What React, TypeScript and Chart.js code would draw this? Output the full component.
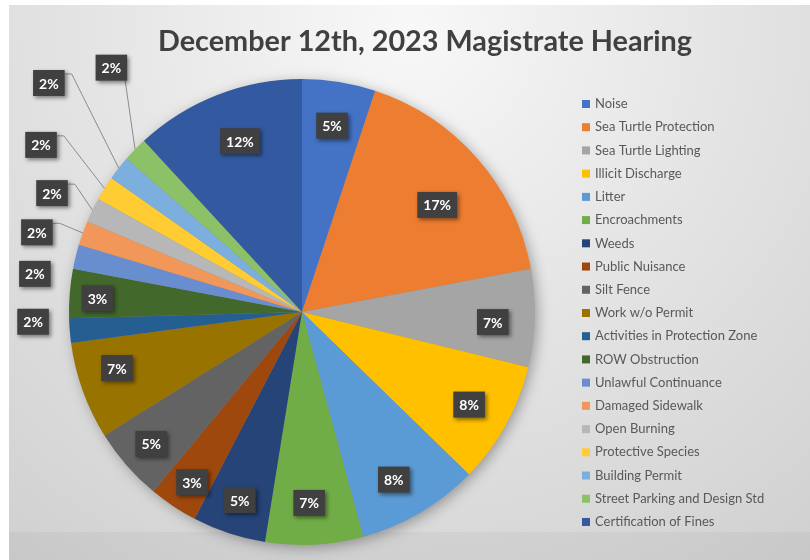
import { useEffect, useRef } from "react";
import { Chart, registerables } from "chart.js";

Chart.register(...registerables);

const chartTitle = "December 12th, 2023 Magistrate Hearing";

const categories = [
  "Noise",
  "Sea Turtle Protection",
  "Sea Turtle Lighting",
  "Illicit Discharge",
  "Litter",
  "Encroachments",
  "Weeds",
  "Public Nuisance",
  "Silt Fence",
  "Work w/o Permit",
  "Activities in Protection Zone",
  "ROW Obstruction",
  "Unlawful Continuance",
  "Damaged Sidewalk",
  "Open Burning",
  "Protective Species",
  "Building Permit",
  "Street Parking and Design Std",
  "Certification of Fines",
];

const caseCounts = [3, 10, 4, 5, 5, 4, 3, 2, 3, 4, 1, 2, 1, 1, 1, 1, 1, 1, 7];

const sliceColors = [
  "#4472C4", "#ED7D31", "#A5A5A5", "#FFC000", "#5B9BD5", "#70AD47",
  "#264478", "#9E480E", "#636363", "#997300", "#255E91", "#43682B",
  "#698ED0", "#F1975A", "#B7B7B7", "#FFCD33", "#7CAFDD", "#8CC168",
  "#335AA1",
];

// label placement: radial factor (of outer radius), angular shift (degrees), leader line
const labelLayout: { k: number; da: number; leader?: boolean }[] = [
  { k: 0.81, da: 0 },
  { k: 0.74, da: 2.8 },
  { k: 0.82, da: 1.5 },
  { k: 0.82, da: 0 },
  { k: 0.82, da: 1.8 },
  { k: 0.82, da: 0.9 },
  { k: 0.85, da: 0 },
  { k: 0.87, da: -0.7 },
  { k: 0.86, da: 0 },
  { k: 0.83, da: 3 },
  { k: 1.155, da: 2.5 },
  { k: 0.88, da: -0.7 },
  { k: 1.158, da: -5.6 },
  { k: 1.188, da: -3.1, leader: true },
  { k: 1.188, da: -0.5, leader: true },
  { k: 1.33, da: 0.6, leader: true },
  { k: 1.465, da: 4, leader: true },
  { k: 1.33, da: 7.8, leader: true },
  { k: 0.78, da: 1.4 },
];

const FONT = "Lato, 'Open Sans', sans-serif";

const bgPlugin = {
  id: "bgPlugin",
  beforeDraw(chart: any) {
    const { ctx, width, height } = chart;
    ctx.save();
    const g = ctx.createRadialGradient(400, 20, 0, 400, 20, 720);
    g.addColorStop(0, "#f8f8f8");
    g.addColorStop(0.45, "#e4e4e4");
    g.addColorStop(1, "#cdcdcd");
    ctx.fillStyle = g;
    ctx.fillRect(0, 0, width, height);
    ctx.fillStyle = "rgba(0,0,0,0.035)";
    ctx.fillRect(0, 527, width, height - 527);
    ctx.restore();
  },
  beforeDatasetsDraw(chart: any) {
    const { ctx } = chart;
    const arc = chart.getDatasetMeta(0).data[0];
    if (!arc) return;
    const { x, y, outerRadius } = arc.getProps(["x", "y", "outerRadius"], true);
    ctx.save();
    ctx.shadowColor = "rgba(0,0,0,0.35)";
    ctx.shadowBlur = 14;
    ctx.shadowOffsetX = 3;
    ctx.shadowOffsetY = 3;
    ctx.beginPath();
    ctx.arc(x, y, outerRadius - 1, 0, Math.PI * 2);
    ctx.fillStyle = "#888";
    ctx.fill();
    ctx.restore();
  },
};

const labelPlugin = {
  id: "labelPlugin",
  afterDatasetsDraw(chart: any) {
    const { ctx } = chart;
    const meta = chart.getDatasetMeta(0);
    const data = chart.data.datasets[0].data as number[];
    const total = data.reduce((a, b) => a + b, 0);
    ctx.save();
    ctx.font = `bold 14px ${FONT}`;
    meta.data.forEach((arc: any, i: number) => {
      const { x, y, startAngle, endAngle, outerRadius } = arc.getProps(
        ["x", "y", "startAngle", "endAngle", "outerRadius"],
        true
      );
      const mid = (startAngle + endAngle) / 2;
      const lay = labelLayout[i];
      const a = mid + (lay.da * Math.PI) / 180;
      const lx = x + Math.cos(a) * outerRadius * lay.k;
      const ly = y + Math.sin(a) * outerRadius * lay.k;
      const text = Math.round((data[i] / total) * 100) + "%";
      const tw = ctx.measureText(text).width;
      const bw = tw + 12;
      const bh = 26;
      const bx = lx - bw / 2;
      const by = ly - bh / 2;
      if (lay.leader) {
        const ex = x + Math.cos(mid) * outerRadius;
        const ey = y + Math.sin(mid) * outerRadius;
        ctx.save();
        ctx.strokeStyle = "#8c8c8c";
        ctx.lineWidth = 1;
        ctx.beginPath();
        const dx = ex - (bx + bw);
        const dy = ey - ly;
        if (Math.abs(dy) > 2 * Math.abs(dx) && dy > 0) {
          ctx.moveTo(bx + bw - 2, by + bh);
          ctx.lineTo(ex, ey);
        } else {
          ctx.moveTo(bx + bw, by + 4);
          ctx.lineTo(bx + bw + 7, by + 4);
          ctx.lineTo(ex, ey);
        }
        ctx.stroke();
        ctx.restore();
      }
      ctx.save();
      ctx.shadowColor = "rgba(0,0,0,0.45)";
      ctx.shadowBlur = 4;
      ctx.shadowOffsetX = 2;
      ctx.shadowOffsetY = 2;
      ctx.fillStyle = "#404040";
      ctx.fillRect(bx, by, bw, bh);
      ctx.restore();
      ctx.fillStyle = "#ffffff";
      ctx.textAlign = "center";
      ctx.textBaseline = "middle";
      ctx.fillText(text, lx, ly + 1);
    });
    ctx.restore();
  },
  afterDraw(chart: any) {
    const { ctx } = chart;
    ctx.save();
    // title
    ctx.font = `bold 28.8px ${FONT}`;
    ctx.fillStyle = "#404040";
    ctx.textAlign = "center";
    ctx.textBaseline = "middle";
    ctx.fillText(chartTitle, 416, 37);
    // legend
    const labels = chart.data.labels as string[];
    const colors = chart.data.datasets[0].backgroundColor as string[];
    ctx.font = `13px ${FONT}`;
    ctx.textAlign = "left";
    labels.forEach((lab, i) => {
      const cy = 99 + i * 23.22;
      ctx.fillStyle = colors[i];
      ctx.fillRect(573, cy - 4, 8, 8);
      ctx.fillStyle = "#595959";
      ctx.fillText(lab, 586, cy);
    });
    ctx.restore();
  },
};

export default function App() {
  const canvasRef = useRef<HTMLCanvasElement | null>(null);

  useEffect(() => {
    if (!canvasRef.current) return;
    const chart = new Chart(canvasRef.current, {
      type: "pie",
      data: {
        labels: categories,
        datasets: [
          {
            data: caseCounts,
            backgroundColor: sliceColors,
            borderWidth: 0,
            hoverOffset: 0,
          },
        ],
      },
      options: {
        responsive: false,
        animation: false,
        events: [],
        layout: { padding: { top: 74, bottom: 15, left: 60, right: 275 } },
        plugins: {
          legend: { display: false },
          title: { display: false },
          tooltip: { enabled: false },
        },
      },
      plugins: [bgPlugin, labelPlugin],
    });
    return () => chart.destroy();
  }, []);

  return (
    <div
      style={{
        position: "absolute",
        left: 9,
        top: 5,
        width: 801,
        height: 555,
        overflow: "hidden",
      }}
    >
      <canvas ref={canvasRef} width={801} height={555} />
    </div>
  );
}
